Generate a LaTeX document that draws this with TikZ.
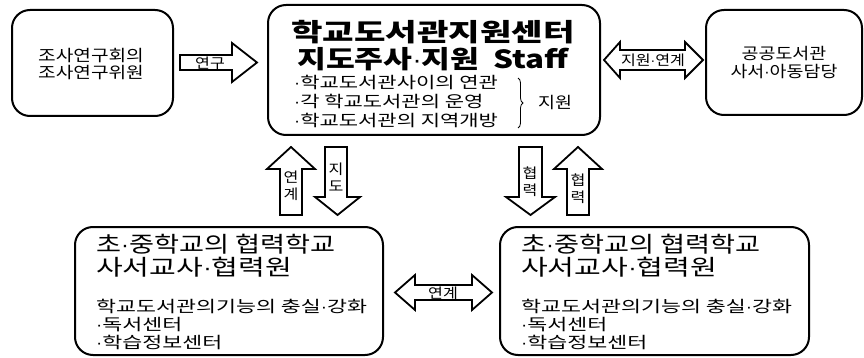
\documentclass[tikz,border=0pt]{standalone}
\usepackage{fontspec}
\setmainfont{Noto Sans CJK KR}[FakeStretch=1.15, BoldFeatures={FakeStretch=1.15}]
\newfontfamily\dotfont{Liberation Sans}
\newcommand\md{{\dotfont\mdseries ·}}
\newcommand\sx[2]{\scalebox{#1}[1]{#2}}
\usetikzlibrary{decorations.pathreplacing}
\begin{document}
\begin{tikzpicture}[x=1pt,y=-1pt,
  box/.style={draw, line width=2pt, rounded corners=18pt, inner sep=0pt},
  barrow/.style={draw, line width=1.8pt, fill=white, line join=miter},
  lbl/.style={font=\fontsize{14}{17}\selectfont, inner sep=0pt, align=center},
  txt/.style={inner sep=0pt, align=center},
  ltxt/.style={inner sep=0pt, align=left, anchor=north west}]
\useasboundingbox (0,0) rectangle (864,358);
% boxes
\node[box, minimum width=161pt, minimum height=106pt] (lbox) at (92.5,63) {};
\node[box, minimum width=332pt, minimum height=130pt] (cbox) at (434,70) {};
\node[box, minimum width=156pt, minimum height=105pt] (rbox) at (784,62.5) {};
\node[box, minimum width=308pt, minimum height=128pt] (blbox) at (229,291) {};
\node[box, minimum width=309pt, minimum height=128pt] (brbox) at (654.5,291) {};
% left box text
\node[txt, font=\fontsize{16}{17}\selectfont] (ltext) at (91,64) {\sx{1.04}{조사연구회의}\\\sx{1.04}{조사연구위원}};
% right box text
\node[txt, font=\fontsize{16}{18}\selectfont] (rtext) at (rbox.center) {공공도서관\\사서\md 아동담당};
% center box
\node[txt, font=\fontsize{25}{27}\selectfont\bfseries] (ctitle) at (433,46) {\sx{1.19}{학교도서관지원센터}\\\sx{1.09}{지도주사{\bfseries\md}지원~~Staff}};
\node[ltxt, font=\fontsize{16}{19}\selectfont] (clist) at (294,75) {\sx{1.14}{\md 학교도서관사이의 연관}\\\sx{1.14}{\md 각 학교도서관의 운영}\\\sx{1.14}{\md 학교도서관의 지역개방}};
\coordinate (bt) at (518,78);
\coordinate (bb) at (518,128);
\draw[line width=0.8pt, decorate, decoration={brace, amplitude=5pt}] (bt) -- (bb);
\node[txt, font=\fontsize{16}{18}\selectfont] (cjw) at (555,103) {지원};
% bottom boxes
\node[ltxt, font=\fontsize{22}{23}\selectfont] (bltitle) at (96,234) {\sx{1.075}{초\md 중학교의 협력학교}\\\sx{1.15}{사서교사\md 협력원}};
\node[ltxt, font=\fontsize{16}{18}\selectfont] (blbody) at (96,299) {\sx{1.18}{학교도서관의기능의 충실\md 강화}\\\sx{1.18}{\md 독서센터}\\\sx{1.18}{\md 학습정보센터}};
\node[ltxt, font=\fontsize{22}{23}\selectfont] (brtitle) at (521,234) {\sx{1.075}{초\md 중학교의 협력학교}\\\sx{1.15}{사서교사\md 협력원}};
\node[ltxt, font=\fontsize{16}{18}\selectfont] (brbody) at (521,299) {\sx{1.18}{학교도서관의기능의 충실\md 강화}\\\sx{1.18}{\md 독서센터}\\\sx{1.18}{\md 학습정보센터}};
% block arrows
\draw[barrow] (180,55)--(232,55)--(232,43)--(257,62.5)--(232,82)--(232,70)--(180,70)--cycle;
\node[lbl] (a1) at (210,63) {연구};
\draw[barrow] (604,60)--(620,42)--(620,50)--(685,50)--(685,42)--(703,60)--(685,78)--(685,70)--(620,70)--(620,78)--cycle;
\node[lbl] (a2) at (653,60) {지원\md 연계};
\draw[barrow] (395,292.5)--(415,275)--(415,285)--(472,285)--(472,275)--(492,292.5)--(472,310)--(472,300)--(415,300)--(415,310)--cycle;
\node[lbl] (a3) at (443,293) {연계};
\draw[barrow] (291,147)--(315,169)--(302,169)--(302,215)--(280,215)--(280,169)--(267,169)--cycle;
\node[lbl] (a4) at (291,186) {연\\계};
\draw[barrow] (325,147)--(347,147)--(347,197)--(360,197)--(337.5,215)--(315,197)--(325,197)--cycle;
\node[lbl] (a5) at (336,177) {지\\도};
\draw[barrow] (519,147)--(542,147)--(542,197)--(555,197)--(530.5,215)--(506,197)--(519,197)--cycle;
\node[lbl] (a6) at (530,182) {협\\력};
\draw[barrow] (578,147)--(602,169)--(589,169)--(589,215)--(567,215)--(567,169)--(554,169)--cycle;
\node[lbl] (a7) at (578,189) {협\\력};
\end{tikzpicture}
\end{document}
